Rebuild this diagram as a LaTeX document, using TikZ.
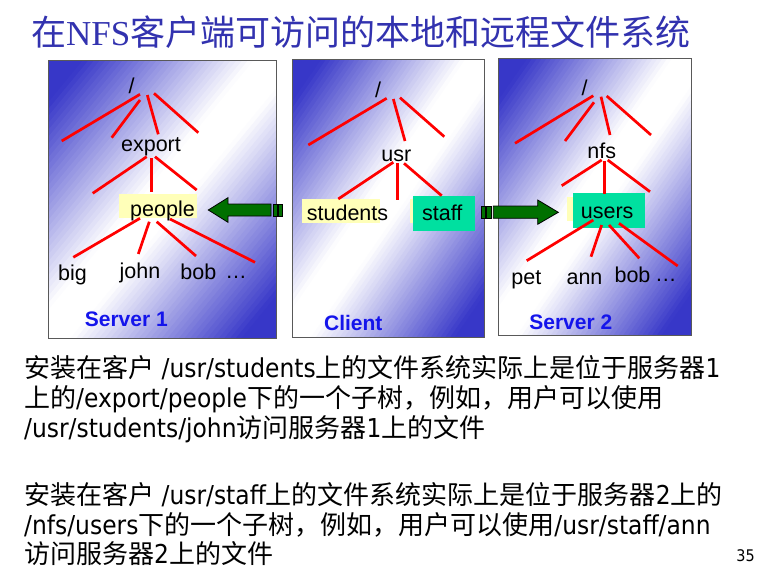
\documentclass[tikz,border=0pt]{standalone}
\usepackage{fontspec}
\setmainfont{Liberation Sans}
\newfontfamily\cjk{Noto Sans CJK SC}
\newfontfamily\lat[FakeStretch=0.9]{DejaVu Sans}
\newfontfamily\tserif{Liberation Serif}
\definecolor{pblue}{RGB}{55,55,200}
\definecolor{tblue}{RGB}{50,50,175}
\definecolor{lblue}{RGB}{20,20,235}
\definecolor{pyel}{RGB}{255,255,185}
\definecolor{pteal}{RGB}{0,224,160}
\definecolor{agreen}{RGB}{0,112,0}
\tikzset{
  panelborder/.style={draw=black!65, line width=1pt},
  tline/.style={red, line width=2.7pt},
  lab/.style={inner sep=0pt, anchor=base, font=\fontsize{21.5}{24}\selectfont},
  srv/.style={inner sep=0pt, anchor=base, text=lblue, font=\bfseries\fontsize{21}{24}\selectfont},
  arr/.style={fill=agreen, draw=black, line width=0.8pt},
  body/.style={inner sep=0pt, anchor=base west, font=\fontsize{26}{30}\selectfont}
}
% diagonal gradient panel: x0, y0 (top left), width, height
% blue in the top-left and bottom-right corners, white along the other diagonal
\newcommand\gradpanel[4]{%
  \begin{scope}
    \clip (#1,#2) rectangle ++(#3,#4);
    \foreach \gi in {0,...,79}{
      \pgfmathsetmacro\gradA{\gi*0.025}
      \pgfmathsetmacro\gradB{\gradA+0.032}
      \pgfmathsetmacro\gradD{abs(\gradA+0.0125-1)}
      \pgfmathsetmacro\gradP{max(0,min(100,100*(\gradD-0.1)/0.75))}
      \pgfmathsetmacro\gradXa{#1+\gradA*#3}
      \pgfmathsetmacro\gradYa{#2+\gradA*#4}
      \pgfmathsetmacro\gradXb{#1+\gradB*#3}
      \pgfmathsetmacro\gradYb{#2+\gradB*#4}
      \fill[pblue!\gradP!white] (\gradXa,#2) -- (#1,\gradYa) -- (#1,\gradYb) -- (\gradXb,#2) -- cycle;
    }
  \end{scope}
  \draw[panelborder] (#1,#2) rectangle ++(#3,#4);
}
\begin{document}
\begin{tikzpicture}[x=1pt,y=-1pt]
\useasboundingbox[fill=white] (0,0) rectangle (765,572);
% title
\node[inner sep=0pt, anchor=base west, text=tblue, font=\fontsize{35}{38}\selectfont] (title) at (31,46)
  {\cjk 在\tserif NFS\cjk 客户端可访问的本地和远程文件系统};
% panels
\gradpanel{48}{61}{228}{277}
\gradpanel{292}{60}{192}{277}
\gradpanel{498}{59}{193}{276}
% highlight boxes
\fill[pyel] (119,194.3) rectangle (196.7,218.3);
\fill[pyel] (301.7,199) rectangle (380,223.3);
\fill[pyel] (410,199) rectangle (413.3,223.3);
\fill[pteal] (413.3,196) rectangle (475,230.7);
\fill[pyel] (566.7,196.7) rectangle (573.3,221);
\fill[pteal] (573.3,192.7) rectangle (645,227.7);
% server 1 tree
\draw[tline] (140,94.3) -- (61.7,141);
\draw[tline] (140,100) -- (111.7,137.7);
\draw[tline] (147.3,95) -- (158.3,134.3);
\draw[tline] (154,93.3) -- (198.3,132.7);
\draw[tline] (146.7,156.7) -- (92.7,193.3);
\draw[tline] (151.7,158.3) -- (151.7,191.7);
\draw[tline] (155,156.7) -- (196.7,190);
\draw[tline] (140,218.3) -- (73.3,257.3);
\draw[tline] (149.3,221.7) -- (138.3,254);
\draw[tline] (156.7,221.7) -- (196,256);
\draw[tline] (170,219) -- (255,262.3);
\node[lab] (s1root) at (131.7,93.5) {/};
\node[lab] (export) at (151,151.7) {export};
\node[lab] (people) at (162.5,216) {people};
\node[lab] (big) at (72.5,280) {big};
\node[lab] (john) at (140,278.3) {john};
\node[lab] (bob1) at (198.3,279) {bob};
\node[lab] (dots1) at (236,278) {\ldots};
\node[srv] (srv1) at (126.3,326.7) {Server 1};
% client tree
\draw[tline] (386.7,98.3) -- (308.3,145);
\draw[tline] (393.3,99) -- (405,141);
\draw[tline] (400,97.7) -- (444.3,136.7);
\draw[tline] (393.3,162.3) -- (338.3,199);
\draw[tline] (397.7,163.3) -- (397.7,200);
\draw[tline] (404,163.3) -- (441.7,195.7);
\node[lab] (croot) at (378,97.7) {/};
\node[lab] (usr) at (396.3,161.7) {usr};
\node[lab] (students) at (347.5,220.7) {students};
\node[lab] (staff) at (442.2,220.7) {staff};
\node[srv] (client) at (353.3,330) {Client};
% server 2 tree
\draw[tline] (593.3,95.7) -- (515,143.3);
\draw[tline] (594,102.3) -- (565,141);
\draw[tline] (601,96.7) -- (610,135);
\draw[tline] (606.7,96) -- (651,135);
\draw[tline] (601.7,160) -- (561.7,185.7);
\draw[tline] (604.3,161) -- (604.3,194.3);
\draw[tline] (607.7,160) -- (650,191.7);
\draw[tline] (593.3,220) -- (526.7,260.7);
\draw[tline] (601.7,225) -- (591,256.7);
\draw[tline] (609,225) -- (639.3,258.3);
\draw[tline] (619,223.3) -- (677.7,266);
\node[lab] (s2root) at (584.7,96) {/};
\node[lab] (nfs) at (601.7,159) {nfs};
\node[lab] (users) at (607.2,218.3) {users};
\node[lab] (pet) at (526.3,284.3) {pet};
\node[lab] (ann) at (584.5,284.3) {ann};
\node[lab] (bob2) at (632.5,282.7) {bob};
\node[lab] (dots2) at (665.8,281.7) {\ldots};
\node[srv] (srv2) at (570.8,329) {Server 2};
% arrows
\draw[arr] (208.3,210) -- (228,197.7) -- (228,204) -- (271,204) -- (271,216) -- (228,216) -- (228,222.3) -- cycle;
\draw[arr] (273,204) rectangle (277.3,216);
\draw[arr] (278.7,204) rectangle (282,216);
\draw[arr] (481,206) rectangle (485.7,218.3);
\draw[arr] (486.7,206) rectangle (491.7,218.3);
\draw[arr] (493.3,206) -- (537.7,206) -- (537.7,200) -- (558.3,212.3) -- (537.7,224.3) -- (537.7,218.3) -- (493.3,218.3) -- cycle;
% body text
\node[body] (l1) at (24,377) {\cjk 安装在客户\lat{} /usr/students\cjk 上的文件系统实际上是位于服务器\lat 1};
\node[body] (l2) at (24,407) {\cjk 上的\lat /export/people\cjk 下的一个子树，例如，用户可以使用};
\node[body] (l3) at (24,437) {\lat /usr/students/john\cjk 访问服务器\lat 1\cjk 上的文件};
\node[body] (l4) at (24,504) {\cjk 安装在客户\lat{} /usr/staff\cjk 上的文件系统实际上是位于服务器\lat 2\cjk 上的};
\node[body] (l5) at (24,534) {\lat /nfs/users\cjk 下的一个子树，例如，用户可以使用\lat /usr/staff/ann};
\node[body] (l6) at (24,563) {\cjk 访问服务器\lat 2\cjk 上的文件};
\node[inner sep=0pt, anchor=base east, font=\lat\fontsize{16}{18}\selectfont] (pnum) at (755,561.5) {35};
\end{tikzpicture}
\end{document}
